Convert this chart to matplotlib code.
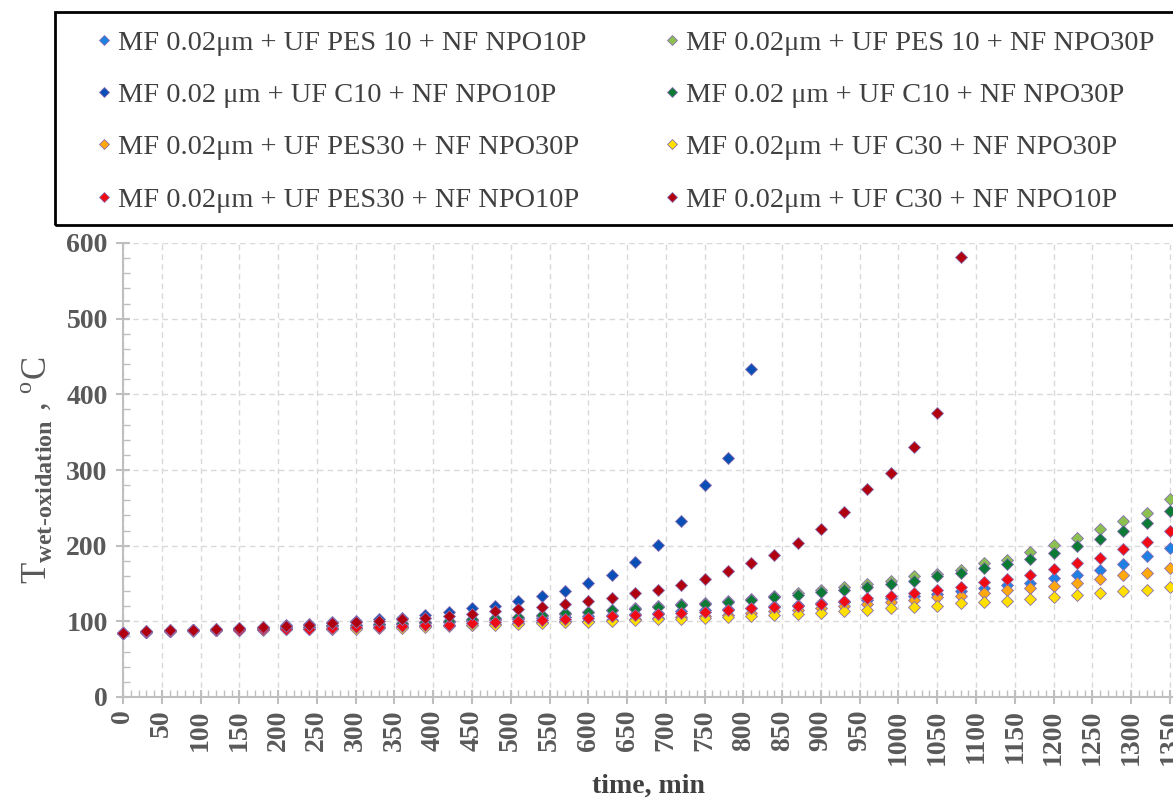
import matplotlib
matplotlib.use("Agg")
import matplotlib.pyplot as plt
from matplotlib.patches import Rectangle
from matplotlib.ticker import MultipleLocator

plt.rcParams["font.family"] = ["Liberation Serif", "DejaVu Serif"]
plt.rcParams["mathtext.fontset"] = "custom"
plt.rcParams["mathtext.rm"] = "Liberation Serif"
plt.rcParams["mathtext.bf"] = "Liberation Serif:bold"

# sampling times, min (every 30 min)
time = list(range(0, 1380, 30))

labels = [
    "MF 0.02\u03bcm + UF PES 10 + NF NPO10P",
    "MF 0.02\u03bcm + UF PES 10 + NF NPO30P",
    "MF 0.02 \u03bcm + UF C10 + NF NPO10P",
    "MF 0.02 \u03bcm + UF C10 + NF NPO30P",
    "MF 0.02\u03bcm + UF PES30 + NF NPO30P",
    "MF 0.02\u03bcm + UF C30 + NF NPO30P",
    "MF 0.02\u03bcm + UF PES30 + NF NPO10P",
    "MF 0.02\u03bcm + UF C30 + NF NPO10P",
]
colors = ["#1E80E2", "#8CC152", "#0A4FB5", "#0A7A35",
          "#FFA90F", "#FFE000", "#F00A14", "#B0000F"]

# wet-oxidation temperature, deg C
pes10_npo10 = [85, 86.5, 87.5, 88, 89, 90, 90.5, 91.5, 92.5, 93.5, 94.5, 95.5, 96.5, 97.5, 98.5, 100,
               101.5, 102.5, 104, 105.5, 107, 108.5, 110, 111.5, 113, 114.5, 116, 118, 120, 122,
               124, 126, 128, 130.5, 133, 136, 139.5, 144, 148.5, 151, 157, 161, 168.5, 176, 186, 197]
pes10_npo30 = [85, 86.5, 87.5, 88, 89, 90, 90.5, 91.5, 92.5, 93.5, 95, 96, 97, 98.5, 100, 101.5,
               103, 105, 107.5, 110, 112.5, 115.5, 117.5, 120, 122.5, 124.5, 127, 130, 133.5, 137,
               141, 145, 149, 153, 159.5, 162, 168, 177, 181, 191.5, 201, 209.5, 222, 232, 243, 262]
c10_npo10 = [85, 87, 88, 88.5, 90, 91.5, 93, 94.5, 96, 98.5, 100.5, 103, 105, 109, 112, 117,
             120.5, 127, 133, 140.5, 150.5, 161, 179, 201, 232, 280, 316, 434]
c10_npo30 = [85, 86.5, 87.5, 88, 89, 90, 91, 92, 93, 94.5, 95.5, 97, 98, 99.5, 101, 102.5,
             104.5, 106, 108.5, 110.5, 112.5, 115, 116.5, 118.5, 121.5, 123, 125.5, 128.5, 131.5, 134.5,
             138.5, 141.5, 146, 149, 153, 159.5, 164, 170, 176, 183, 190.5, 200, 208.5, 219, 229.5, 245.5]
pes30_npo30 = [85, 86.5, 87.5, 88, 88.5, 89, 89.5, 90, 90, 90.5, 91, 92, 92.5, 93.5, 94.5, 95.5,
               96.5, 97.5, 98.5, 100, 101, 102, 103.5, 104.5, 106, 107.5, 109, 111, 113, 115,
               117.5, 120, 123, 125, 128.5, 131.5, 134, 137, 141, 144, 147, 151, 156.5, 161.5, 164.5, 171]
c30_npo30 = [85, 86.5, 87, 87.5, 88, 88.5, 89, 89.5, 89.5, 90, 90.5, 91, 91.5, 92.5, 93.5, 94.5,
             95.5, 96.5, 97.5, 98.5, 99.5, 100.5, 101.5, 102.5, 103.5, 104.5, 106, 107.5, 109, 110,
             111.5, 113.5, 115.5, 117, 119.5, 120.5, 124, 125.5, 127.5, 130, 132, 135, 137, 140, 141.5, 145.5]
pes30_npo10 = [85, 86.5, 87.5, 88, 88.5, 89, 89.5, 90, 90.5, 91, 92, 93, 93.5, 94.5, 95.5, 97.5,
               99.5, 100, 101.5, 103, 105, 106.5, 108, 109.5, 111, 112.5, 114.5, 117, 119, 120.5,
               123.5, 127.5, 130.5, 133.5, 137, 141.5, 145, 151.5, 156, 161.5, 169.5, 177.5, 184, 195, 205, 220]
c30_npo10 = [85, 87, 88, 88.5, 90, 91, 92.5, 93.5, 95, 97.5, 99.5, 101, 103, 105, 107.5, 110,
             113, 116.5, 119.5, 123, 126.5, 130.5, 137, 141.5, 148, 155.5, 166, 177, 188, 204,
             222, 245, 275.5, 296, 330, 375.5, 582]

series = [pes10_npo10, pes10_npo30, c10_npo10, c10_npo30,
          pes30_npo30, c30_npo30, pes30_npo10, c30_npo10]

fig = plt.figure(figsize=(11.73, 8.06), dpi=100)
ax = fig.add_axes([123 / 1173, 109 / 806, 1 - 123 / 1173, (697 - 243) / 806])

handles = []
for vals, col, lab in zip(series, colors, labels):
    h, = ax.plot(time[:len(vals)], vals, linestyle="none", marker="D", markersize=6.5,
                 markerfacecolor=col, markeredgecolor="#8A6FB0", markeredgewidth=0.6,
                 clip_on=False, label=lab, zorder=3)
    handles.append(h)

ax.set_xlim(0, 1354)
ax.set_ylim(0, 600)
ax.xaxis.set_major_locator(MultipleLocator(50))
ax.xaxis.set_minor_locator(MultipleLocator(10))
ax.yaxis.set_major_locator(MultipleLocator(100))
ax.yaxis.set_minor_locator(MultipleLocator(20))

ax.grid(True, which="major", color="#D9D9D9", linestyle=(0, (4, 3)), linewidth=1)
for side in ["top", "right"]:
    ax.spines[side].set_visible(False)
for side in ["left", "bottom"]:
    ax.spines[side].set_color("#BFBFBF")
    ax.spines[side].set_linewidth(1.5)

ax.tick_params(axis="both", which="major", direction="inout", length=10, width=1.5,
               color="#BFBFBF", labelcolor="#595959", labelsize=20)
ax.tick_params(axis="both", which="minor", direction="in", length=5, width=1, color="#BFBFBF")
ax.tick_params(axis="x", which="major", labelrotation=90, pad=4)
ax.tick_params(axis="y", which="major", pad=6)
for t in ax.get_xticklabels() + ax.get_yticklabels():
    t.set_fontweight("bold")

ax.set_xlabel("time, min", fontsize=20, fontweight="bold", color="#404040", labelpad=6)
ax.set_ylabel(r"T$_{\mathbf{wet}\text{-}\mathbf{oxidation}}$ , $^{\mathrm{o}}$C",
              fontsize=25, color="#595959", labelpad=8)

# legend: two columns, boxed separately
order = [0, 2, 4, 6, 1, 3, 5, 7]
fig.legend([handles[i] for i in order], [labels[i] for i in order],
           loc="upper left", bbox_to_anchor=(81.5 / 1173, 1 - 16 / 806),
           bbox_transform=fig.transFigure, ncol=2, frameon=False, borderpad=0,
           handlelength=0.6, handletextpad=0.2, columnspacing=2.71, labelspacing=0.93,
           markerscale=0.85, fontsize=20.4, labelcolor="#404040")
fig.add_artist(Rectangle((55 / 1173, (806 - 225) / 806), 1.2, 213 / 806,
                         transform=fig.transFigure, fill=False, edgecolor="black", linewidth=2))

fig.savefig("out.png", dpi=100)
